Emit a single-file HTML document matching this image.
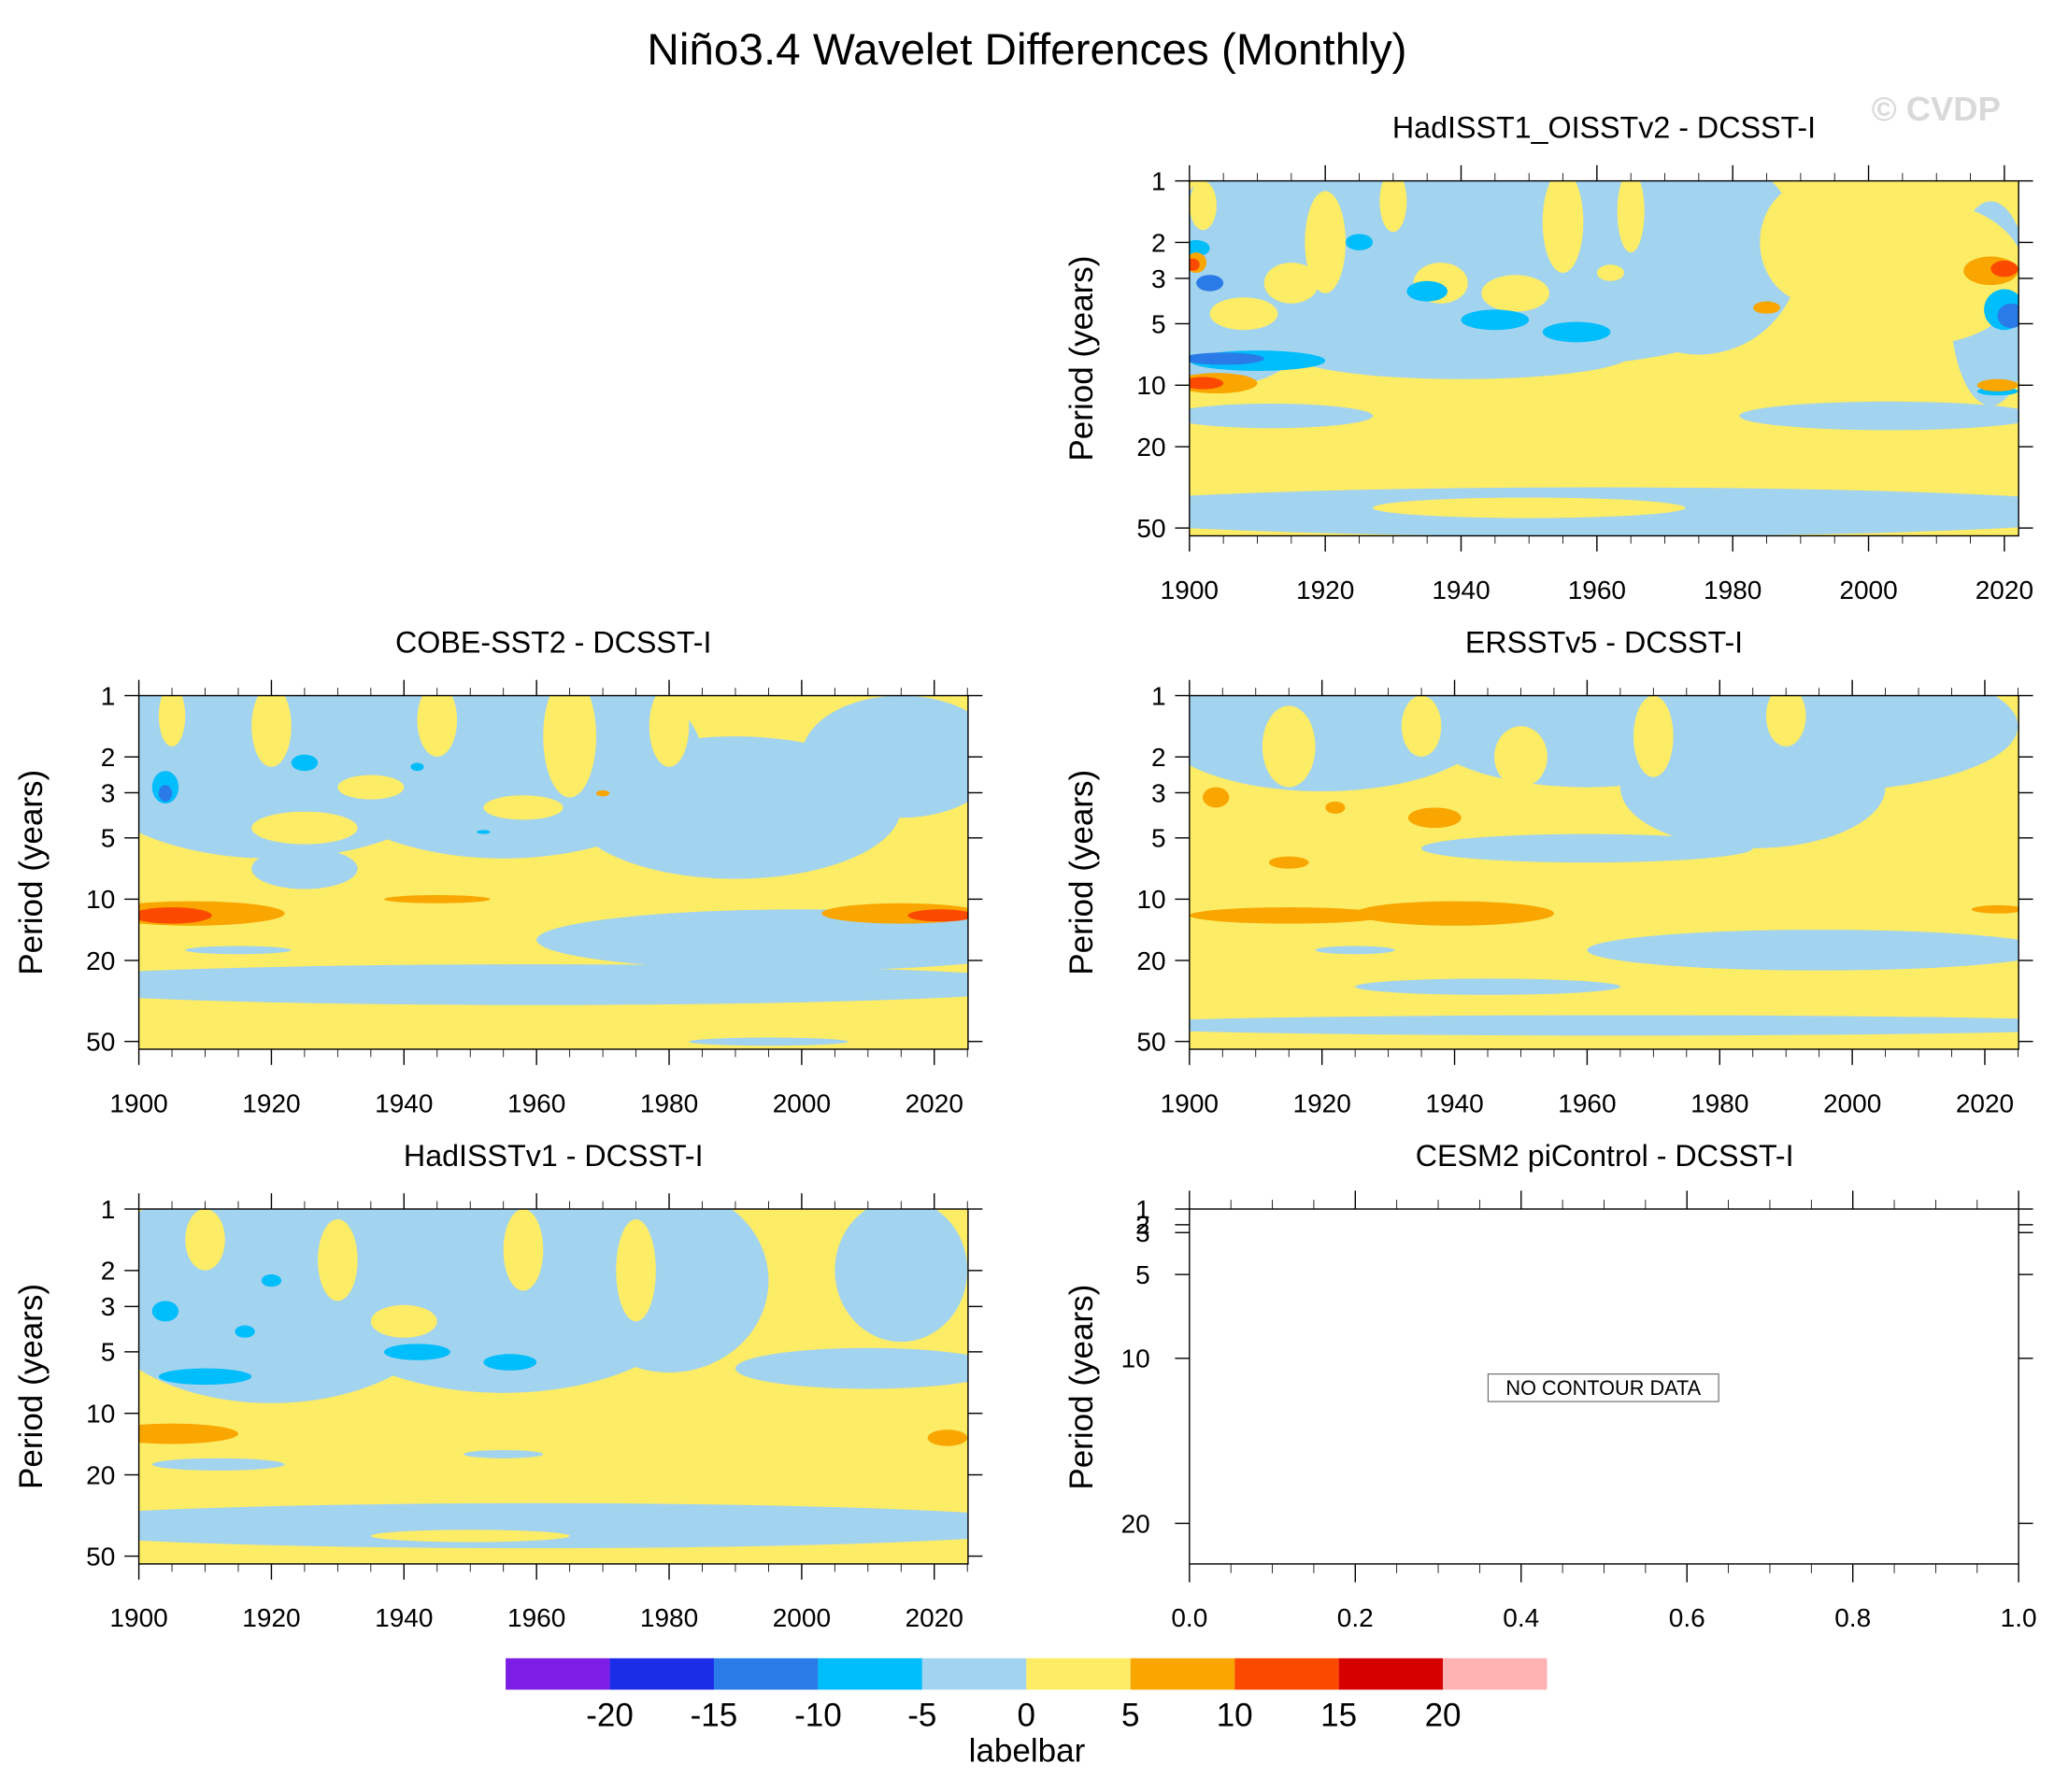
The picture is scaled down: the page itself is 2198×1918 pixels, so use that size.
<!DOCTYPE html>
<html><head><meta charset="utf-8"><style>
html,body{margin:0;padding:0;background:#fff;}
svg{display:block;font-family:"Liberation Sans",Arial,sans-serif;}
</style></head><body>
<svg id="chart" width="2198" height="1918" viewBox="0 0 1568 1368" xmlns="http://www.w3.org/2000/svg">
<text x="784" y="49" font-size="34" text-anchor="middle">Niño3.4 Wavelet Differences (Monthly)</text>
<text x="1478" y="92" font-size="26" font-weight="bold" fill="#d9d9d9" text-anchor="middle">© CVDP</text>
<g id="panels"></g>
<g id="cbar"></g>
</svg>
<script>
const levelColors = ["#7d1ee6","#1c2de8","#2a7be8","#00bdfb","#a2d3ef","#fdec66","#f9a600","#fb4a00","#d60000","#ffb2b2"];
const levelTicks = ["-20","-15","-10","-5","0","5","10","15","20"];

// Panel 1: HadISST1_OISSTv2 blobs [year, log10 period, half-width yrs, half-height decades, level]
const p1Year   = [1925,1955,1975,1905,1940,2018,1960,1912,2003,1900, 1915,1937,1948,1962,1908,1950,1902,1920,1930,1955,1965,1992,2008, 1925,1935,1945,1957,1910,2020,2019,1901, 1905,1903,2021, 1904,1985,2018,2019,1901, 1902,2020,1900.5];
const p1LogP   = [0.35,0.40,0.35,0.75,0.85,0.60,1.62,1.15,1.15,0.55, 0.50,0.50,0.55,0.45,0.65,1.60,0.12,0.30,0.10,0.20,0.15,0.30,0.45, 0.30,0.54,0.68,0.74,0.88,0.63,1.03,0.33, 0.87,0.50,0.66, 0.99,0.62,0.44,1.00,0.40, 0.99,0.43,0.41];
const p1HalfW  = [30,35,15,12,25,6,80,15,22,8, 4,4,5,2,5,23,2,3,2,3,2,8,15, 2,3,5,5,10,3,3,2, 6,2,2, 6,2,4,3,1.5, 3,2,1];
const p1HalfH  = [0.55,0.5,0.5,0.25,0.12,0.5,0.12,0.06,0.07,0.45, 0.1,0.1,0.09,0.04,0.08,0.05,0.12,0.25,0.15,0.25,0.2,0.3,0.35, 0.04,0.05,0.05,0.05,0.05,0.1,0.02,0.04, 0.03,0.04,0.06, 0.05,0.03,0.07,0.03,0.05, 0.03,0.04,0.03];
const p1Level  = [4,4,4,4,4,4,4,4,4,4, 5,5,5,5,5,5,5,5,5,5,5,5,5, 3,3,3,3,3,3,3,3, 2,2,2, 6,6,6,6,6, 7,7,7];

// Panel 2: COBE-SST2
const p2Year  = [1920,1955,1990,2015,1960,2000,1925,1995,1915,1945, 1905,1920,1945,1965,1980,1935,1958,1925, 1904,1925,1942,1952, 1904, 1908,2015,1945,1970, 1905,2021];
const p2LogP  = [0.30,0.30,0.55,0.30,1.42,1.20,0.85,1.70,1.25,1.35, 0.10,0.15,0.12,0.20,0.15,0.45,0.55,0.65, 0.45,0.33,0.35,0.67, 0.48, 1.07,1.07,1.00,0.48, 1.08,1.08];
const p2HalfW = [30,30,25,15,80,40,8,12,8,8, 2,3,3,4,3,5,6,8, 2,2,1,1, 1, 14,12,8,1, 6,5];
const p2HalfH = [0.5,0.5,0.35,0.3,0.1,0.15,0.1,0.02,0.02,0.015, 0.15,0.2,0.18,0.3,0.2,0.06,0.06,0.08, 0.08,0.04,0.02,0.01, 0.04, 0.06,0.05,0.02,0.015, 0.04,0.03];
const p2Level = [4,4,4,4,4,4,4,4,4,4, 5,5,5,5,5,5,5,5, 3,3,3,3, 2, 6,6,6,6, 7,7];

// Panel 3: ERSSTv5
const p3Year  = [1920,1960,1995,1985,1960,1995,1965,1945,1925, 1915,1935,1950,1970,1990, 1904,1922,1937,1915,1940,1915,2022];
const p3LogP  = [0.15,0.15,0.15,0.45,0.75,1.25,1.62,1.43,1.25, 0.25,0.15,0.30,0.20,0.10, 0.50,0.55,0.60,0.82,1.07,1.08,1.05];
const p3HalfW = [25,25,30,20,25,35,80,20,6, 4,3,4,3,3, 2,1.5,4,3,15,15,4];
const p3HalfH = [0.32,0.3,0.32,0.3,0.07,0.1,0.05,0.04,0.02, 0.2,0.15,0.15,0.2,0.15, 0.05,0.03,0.05,0.03,0.06,0.04,0.02];
const p3Level = [4,4,4,4,4,4,4,4,4, 5,5,5,5,5, 6,6,6,6,6,6,6];

// Panel 4: HadISSTv1
const p4Year  = [1920,1955,1980,2015,2010,1960,1912,1955, 1950,1910,1930,1958,1975,1940, 1904,1910,1942,1956,1920,1916, 1905,2022];
const p4LogP  = [0.40,0.40,0.35,0.30,0.78,1.55,1.25,1.20, 1.60,0.15,0.25,0.20,0.30,0.55, 0.50,0.82,0.70,0.75,0.35,0.60, 1.10,1.12];
const p4HalfW = [28,30,15,10,20,80,10,6, 15,3,3,3,3,5, 2,7,5,4,1.5,1.5, 10,3];
const p4HalfH = [0.55,0.5,0.45,0.35,0.1,0.11,0.03,0.02, 0.03,0.15,0.2,0.2,0.25,0.08, 0.05,0.04,0.04,0.04,0.03,0.03, 0.05,0.04];
const p4Level = [4,4,4,4,4,4,4,4, 5,5,5,5,5,5, 3,3,3,3,3,3, 6,6];

const yearTicks = [1900,1920,1940,1960,1980,2000,2020];
const periodTicks = [1,2,3,5,10,20,50];
const cesmXTicks = ["0.0","0.2","0.4","0.6","0.8","1.0"];
const cesmYTicks = ["1","2","3","5","10","20"];

const NS="http://www.w3.org/2000/svg";
const root=document.getElementById('panels');
function el(tag,attrs,parent){const e=document.createElementNS(NS,tag);for(const k in attrs)e.setAttribute(k,attrs[k]);(parent||root).appendChild(e);return e;}

const panels=[
 {title:"HadISST1_OISSTv2 - DCSST-I",x0:908,x1:1541,y0:138,y1:409,yEnd:2022.1,data:[p1Year,p1LogP,p1HalfW,p1HalfH,p1Level],name:"hadisst1-oisstv2"},
 {title:"COBE-SST2 - DCSST-I",x0:106,x1:739,y0:531,y1:801,yEnd:2025.1,data:[p2Year,p2LogP,p2HalfW,p2HalfH,p2Level],name:"cobe-sst2"},
 {title:"ERSSTv5 - DCSST-I",x0:908,x1:1541,y0:531,y1:801,yEnd:2025.1,data:[p3Year,p3LogP,p3HalfW,p3HalfH,p3Level],name:"ersstv5"},
 {title:"HadISSTv1 - DCSST-I",x0:106,x1:739,y0:923,y1:1194,yEnd:2025.1,data:[p4Year,p4LogP,p4HalfW,p4HalfH,p4Level],name:"hadisstv1"}
];
const logMax=Math.log10(54.6);
panels.forEach((p,i)=>{
 const g=el('g',{});
 
 
 const xs=yr=>p.x0+(yr-1900)/(p.yEnd-1900)*(p.x1-p.x0);
 const ys=lp=>p.y0+lp/logMax*(p.y1-p.y0);
 const cid='clip'+i;
 const cp=el('clipPath',{id:cid},g);
 el('rect',{x:p.x0,y:p.y0,width:p.x1-p.x0,height:p.y1-p.y0},cp);
 const bg=el('rect',{x:p.x0,y:p.y0,width:p.x1-p.x0,height:p.y1-p.y0,fill:levelColors[5]},g);
 
 
 const cg=el('g',{'clip-path':'url(#'+cid+')'},g);
 const [Y,L,W,H,V]=p.data;
 for(let k=0;k<Y.length;k++){
  const e=el('ellipse',{cx:xs(Y[k]),cy:ys(L[k]),rx:Math.abs(xs(Y[k]+W[k])-xs(Y[k])),ry:Math.abs(ys(L[k]+H[k])-ys(L[k])),fill:levelColors[V[k]]},cg);
  
  
 }
 el('rect',{x:p.x0,y:p.y0,width:p.x1-p.x0,height:p.y1-p.y0,fill:'none',stroke:'#000','stroke-width':1},g);
 for(let yr=1900;yr<=p.yEnd;yr+=5){
  const major=yr%20===0, x=xs(yr), len=major?12:6;
  el('line',{x1:x,x2:x,y1:p.y0,y2:p.y0-len,stroke:'#000','stroke-width':major?1:0.6},g);
  el('line',{x1:x,x2:x,y1:p.y1,y2:p.y1+len,stroke:'#000','stroke-width':major?1:0.6},g);
 }
 yearTicks.forEach(t=>{const tx=el('text',{x:xs(t),y:p.y1+48,'font-size':20,'text-anchor':'middle'},g);tx.textContent=t;
  
  });
 periodTicks.forEach(t=>{const y=ys(Math.log10(t));
  el('line',{x1:p.x0,x2:p.x0-11,y1:y,y2:y,stroke:'#000'},g);
  el('line',{x1:p.x1,x2:p.x1+11,y1:y,y2:y,stroke:'#000'},g);
  const tx=el('text',{x:p.x0-18,y:y+7,'font-size':20,'text-anchor':'end'},g);tx.textContent=t;
  
  });
 const yt=el('text',{x:0,y:0,'font-size':25,'text-anchor':'middle',transform:`translate(${p.x0-74},${(p.y0+p.y1)/2}) rotate(-90)`},g);yt.textContent="Period (years)";
 
 
 const tt=el('text',{x:(p.x0+p.x1)/2,y:p.y0-33,'font-size':23,'text-anchor':'middle'},g);tt.textContent=p.title;
 
 
});

// CESM2 empty panel
(function(){
 const x0=908,x1=1541,y0=923,y1=1194;
 const g=el('g',{});
 
 
 el('rect',{x:x0,y:y0,width:x1-x0,height:y1-y0,fill:'#fff',stroke:'#000'},g);
 for(let k=0;k<=20;k++){const x=x0+k/20*(x1-x0),major=k%4===0,len=major?14:7;
  el('line',{x1:x,x2:x,y1:y0,y2:y0-len,stroke:'#000','stroke-width':major?1:0.6},g);
  el('line',{x1:x,x2:x,y1:y1,y2:y1+len,stroke:'#000','stroke-width':major?1:0.6},g);}
 cesmXTicks.forEach((t,k)=>{const tx=el('text',{x:x0+k/5*(x1-x0),y:y1+48,'font-size':20,'text-anchor':'middle'},g);tx.textContent=t;
  
  });
 const ypos=[923,935,941,973,1037,1163];
 cesmYTicks.forEach((t,k)=>{const y=ypos[k];
  el('line',{x1:x0,x2:x0-11,y1:y,y2:y,stroke:'#000'},g);
  el('line',{x1:x1,x2:x1+11,y1:y,y2:y,stroke:'#000'},g);
  const tx=el('text',{x:x0-30,y:y+7,'font-size':20,'text-anchor':'end'},g);tx.textContent=t;
  
  });
 const yt=el('text',{x:0,y:0,'font-size':25,'text-anchor':'middle',transform:`translate(834,1059) rotate(-90)`},g);yt.textContent="Period (years)";
 
 
 const tt=el('text',{x:1225,y:890,'font-size':23,'text-anchor':'middle'},g);tt.textContent="CESM2 piControl - DCSST-I";
 
 
 el('rect',{x:1136,y:1049,width:176,height:21,fill:'#fff',stroke:'#666','stroke-width':0.8},g);
 const nc=el('text',{x:1224,y:1065,'font-size':15.5,'text-anchor':'middle'},g);nc.textContent="NO CONTOUR DATA";
 
 
})();

// colorbar
(function(){
 const cb=document.getElementById('cbar');
 
 
 const x0=386,w=79.5,y=1266,h=24;
 levelColors.forEach((c,k)=>{const r=el('rect',{x:x0+k*w,y:y,width:w,height:h,fill:c},cb);
  
  });
 levelTicks.forEach((t,k)=>{const tx=el('text',{x:x0+(k+1)*w,y:1318,'font-size':25,'text-anchor':'middle'},cb);tx.textContent=t;
  
  });
 const lb=el('text',{x:784,y:1345,'font-size':25,'text-anchor':'middle'},cb);lb.textContent="labelbar";
 
 
})();
</script>
</body></html>
